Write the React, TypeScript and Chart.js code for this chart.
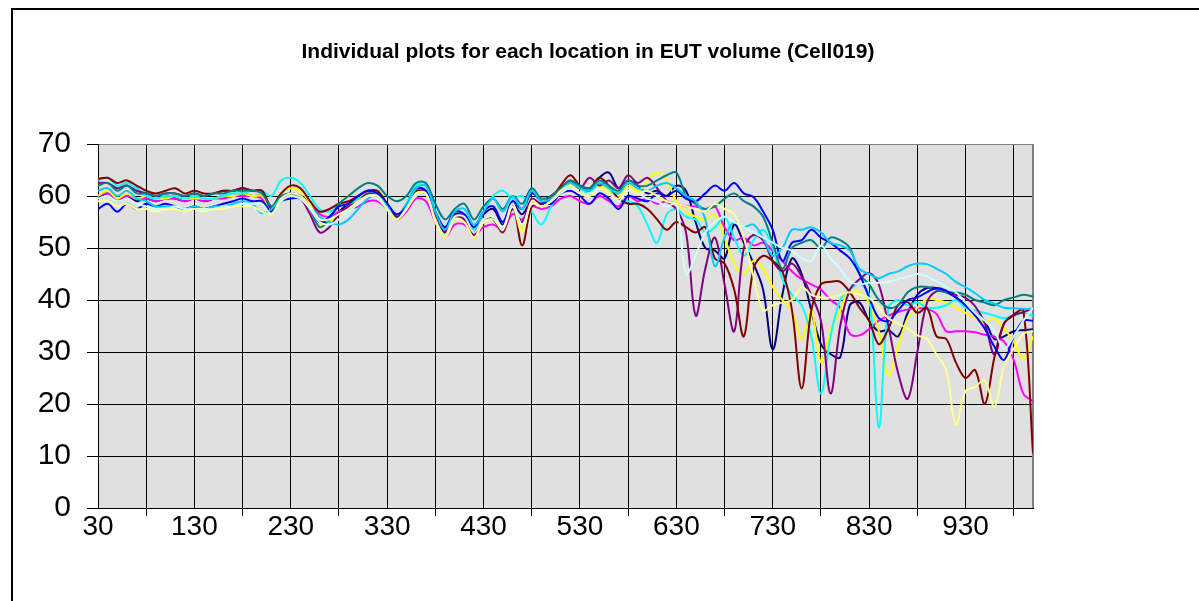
import React, { useEffect, useRef } from 'react';
import { Chart, registerables } from 'chart.js';

Chart.register(...registerables);

const TITLE = 'Individual plots for each location in EUT volume (Cell019)';

const FREQS = [
  30, 40, 50, 60, 70, 80, 90, 100, 110, 120,
  130, 140, 150, 160, 170, 180, 190, 200, 210, 220,
  230, 240, 250, 260, 270, 280, 290, 300, 310, 320,
  330, 340, 350, 360, 370, 380, 390, 400, 410, 420,
  430, 440, 450, 460, 470, 480, 490, 500, 510, 520,
  530, 540, 550, 560, 570, 580, 590, 600, 610, 620,
  630, 640, 650, 660, 670, 680, 690, 700, 710, 720,
  730, 740, 750, 760, 770, 780, 790, 800, 810, 820,
  830, 840, 850, 860, 870, 880, 890, 900, 910, 920,
  930, 940, 950, 960, 970, 980, 990, 1000,
];

const X_GRID_TICKS = [30, 80, 130, 180, 230, 280, 330, 380, 430, 480, 530, 580, 630, 680, 730, 780, 830, 880, 930, 980];
const X_LABELS = [30, 130, 230, 330, 430, 530, 630, 730, 830, 930];
const Y_MIN = 0;
const Y_MAX = 70;
const Y_STEP = 10;

const NAVY = [
  59.5, 60.5, 59, 60, 59, 59.5, 59, 59.5, 59.5, 59,
  59.5, 59, 59.5, 60, 60, 60.5, 60, 60, 57.5, 59.5,
  60, 60, 58.5, 55.5, 55, 57, 58.5, 60, 61, 60.5,
  58.5, 56, 58.5, 61.5, 61, 56.5, 53.5, 56.5, 56, 54,
  56.5, 57.5, 54.5, 58.5, 56.5, 59, 58, 60, 61, 62.5,
  61.5, 61, 63.5, 64.5, 61.5, 63, 62, 60.5, 61, 60,
  62, 61, 55, 50, 49.5, 48, 54.5, 51, 47, 42,
  30.5, 41, 48, 45, 38, 31.5, 29.6, 29, 39, 39.5,
  36, 34, 34.2, 33, 37.5, 41, 42.3, 42.3, 41.5, 40.5,
  39, 37.5, 36, 32.5, 33, 34, 34.2, 34.4,
];

const MAGENTA = [
  60, 60.5, 59.5, 60, 59.5, 59.5, 59, 59.5, 59.5, 59,
  59.5, 59, 59.5, 59.5, 60, 60, 60, 59.5, 57, 59.5,
  60.5, 60, 58.5, 56.5, 56, 57, 57.5, 58, 59, 59,
  57.5, 55.5, 57, 59.5, 59, 55, 52, 54.5, 54.5, 52.5,
  54, 54.5, 53.5, 56.5, 55.5, 58, 57.5, 58, 59.5, 60,
  59, 58.5, 60, 59, 58, 60, 59, 59.5, 58.5, 59,
  58.5, 58, 58, 57.5, 58, 54, 51.5, 52, 50.5, 51,
  49.5, 47.5, 45.5, 44, 43, 42, 40, 38.5, 33.5, 33.2,
  34.4, 36, 37, 37.7, 38.2, 38.4, 38.3, 37.3, 34, 34,
  34, 33.8, 33.3, 33, 32, 28.5, 22, 20.5,
];

const YELLOW = [
  60, 61, 59.5, 60.5, 59.5, 60, 59.5, 59.5, 60, 59.5,
  59.5, 59.5, 59.5, 60, 60, 60.5, 60, 60, 57.5, 60.5,
  61.5, 61, 58.5, 54.5, 55, 56.5, 58, 59.5, 60.5, 60,
  57.5, 55.5, 57.5, 60.5, 60.5, 55.5, 52, 55.5, 55, 52,
  55, 55.5, 53, 58.5, 53.5, 59.5, 58, 59, 61, 62,
  60.5, 60, 62, 61, 60, 62, 61, 63, 64.5, 63,
  59, 57, 56, 55.5, 56.5, 52, 47, 45, 47.5, 46,
  42.5, 40, 38, 32.5, 38, 28, 34, 38, 42, 41.5,
  39.5, 34, 25.5, 31, 36.5, 38.5, 40.2, 40, 39.5, 38.5,
  37.5, 36.5, 35.8, 36.4, 34.5, 32, 28.7, 33,
];

const CYAN = [
  63, 63.5, 62, 62.5, 61.5, 60, 59.5, 60, 60, 59.5,
  60, 59.5, 59.5, 60, 60.5, 60.5, 61, 61, 60, 63,
  63.5, 62.5, 60, 57.5, 57, 58, 58.5, 59.5, 60.5, 60.5,
  58, 56, 58.5, 62, 62.5, 57, 53, 56.5, 56.5, 53.5,
  57, 60, 61, 59.5, 60, 57, 54.5, 58, 61, 62.5,
  61.5, 60.5, 62.5, 61.5, 59.5, 59, 58, 54.5, 51, 56.5,
  57.5, 56, 55.5, 53, 54, 56, 52, 48.5, 51.5, 53.5,
  50, 44, 41, 39, 33, 22, 33, 40, 42, 43,
  41, 15.5, 38.5, 40, 39, 39.5, 38.5, 38.5, 39, 40,
  38.5, 38, 37.5, 37, 36.5, 37, 37.5, 37,
];

const PURPLE = [
  62.5, 62.5, 61.5, 62, 61, 60.5, 60, 60.5, 60.5, 60,
  60.5, 60, 60.5, 61, 61, 61.5, 61, 61, 57.5, 59.5,
  60, 59.5, 56.5, 53, 54, 56.5, 58, 59, 60.5, 60,
  58, 55.5, 57.5, 60, 60.5, 55.5, 53, 56, 55.5, 52.5,
  55.5, 55.5, 53, 57.5, 55, 59.5, 58.5, 60, 61.5, 63,
  61.5, 63.5, 62, 63, 61.5, 64, 62.5, 63.5, 61.5, 59,
  57.5, 53, 37, 46, 52, 43, 34, 50, 52.5, 51.5,
  47.5, 45.5, 47, 44.5, 41, 36, 22, 35, 42, 44,
  45.2, 43, 35, 26, 21, 30, 39.5, 41.7, 41.5, 41,
  40.4, 38.8, 35.5, 29.5, 35.5, 37, 37.7, 38.3,
];

const MAROON = [
  63.3, 63.5, 62.5, 63, 62, 61, 60.5, 61, 61.5, 60.5,
  61, 60.5, 60.5, 61, 61, 61.5, 61, 61, 58, 60.5,
  62, 61.5, 59, 57, 57.5, 58.5, 59, 60, 61, 61,
  58.5, 56, 58, 61, 60.5, 56, 53, 56.5, 56, 53,
  55.5, 55.5, 53.5, 58.5, 50.5, 58, 58.5, 59.5, 62, 64,
  62, 61.5, 63.5, 62, 59.5, 58.5, 58.5, 57.5, 55.5, 53.5,
  55, 54, 53, 54, 48, 47, 42, 33, 46, 48.5,
  47.5, 45.5, 38, 23, 38, 43, 43.5, 43.5, 41.5, 38.5,
  36, 31.5, 34.5, 39, 39.6, 37.5, 38.5, 33, 32.5, 28,
  25, 26.5, 20, 29, 35.5, 37.2, 38, 10.5,
];

const TEAL = [
  62, 62.5, 61, 62, 60.5, 60.5, 60, 60.5, 60.5, 60,
  60.5, 60, 60.5, 60.5, 61, 61, 61, 60.5, 58, 60,
  60.5, 60, 57.5, 54, 55.5, 58.5, 60, 61.5, 62.5, 62,
  60, 59, 60, 62.5, 62.5, 58.5, 55.5, 57.5, 58.5, 55.5,
  58, 59.5, 57.5, 60, 58.5, 61.5, 59.5, 60, 61.5, 63,
  62, 61.5, 63, 62, 61, 63, 62, 62, 63, 64,
  64.5, 60, 58.5, 57.5, 58, 59.5, 60.5, 59, 58, 56,
  51, 46, 50, 51, 51.5, 50, 52, 51.5, 50, 45,
  43, 40, 38.5, 39, 41.5, 42.5, 42.5, 42, 41.5, 41.5,
  41, 40, 39.5, 39, 40, 40.5, 41, 40.7,
];

const BLUE = [
  57.5, 58.5, 57, 58.5, 57.5, 58.5, 58, 58.5, 58, 57.5,
  58, 57.5, 58, 58.5, 59, 59.5, 59, 59, 57, 59,
  59.5, 59.5, 57.5, 55, 56, 58, 58.5, 60, 61, 60.5,
  58.5, 56.5, 58, 61.5, 61, 57, 54, 57, 56.5, 54,
  57, 58, 55, 59, 57.5, 60.5, 59, 58.5, 60.5, 61,
  60, 58.5, 60.5, 59.5, 57.5, 60, 59.5, 59, 60.5, 60,
  61, 59.5, 59, 60.5, 62, 61, 62.5, 60.5, 59.8, 57,
  53.5, 47.5, 51, 51.5, 53.5, 52, 51, 49.5, 48, 45,
  40.5, 36.5, 36, 38, 40, 40.5, 41.5, 42.3, 41.8, 40.5,
  39, 37, 34.5, 31, 28.5, 33, 36, 36,
];

const SKY_BLUE = [
  61, 61.5, 60, 61, 59.5, 59, 58, 58, 58, 57.5,
  58, 57.5, 58, 58, 58.5, 59, 58.5, 56.7, 57.5, 59.5,
  60, 59.5, 58, 56, 55, 54.5, 55.5, 57.5, 59.5, 60,
  58, 55.5, 58, 61.5, 62, 57, 53.5, 57, 57.5, 54.5,
  57, 59.5, 57, 60, 57.5, 61, 59, 59.5, 61, 62.5,
  61.5, 61, 62.5, 61.5, 60.5, 62.5, 61.5, 61, 62, 62.5,
  61.5, 60, 59, 55.5, 46.5, 52, 55, 54, 54.5, 52,
  48.5, 50, 53.5, 53.5, 54, 53, 51, 50.5, 49.5, 46,
  45, 44.2, 45, 45.5, 46.5, 47, 46.9, 46, 45, 43.5,
  42.5, 41.3, 40, 39.3, 38.5, 38.4, 38.3, 38.3,
];

const LIGHT_CYAN = [
  59.5, 60, 59, 59.5, 58.5, 58, 57.5, 57.5, 58, 57.5,
  57.5, 57.5, 57.5, 58, 58, 58.5, 58.5, 58.5, 56.5, 59,
  60, 59.5, 57.5, 55, 54.5, 55.5, 57, 58.5, 60, 59.5,
  57.5, 55.5, 57.5, 60, 60.5, 55.5, 52.5, 56, 56, 53,
  55.5, 56, 54, 58.5, 54.5, 58.5, 58, 59, 60.5, 61.5,
  60.5, 60.5, 61.5, 60.5, 59, 61, 60.5, 59.5, 59, 58,
  58.5, 45, 48.5, 53, 55, 56, 55, 54, 53, 52,
  51, 50, 49.5, 48, 47.5, 50.5, 48, 46, 43.6, 43,
  43.3, 43.3, 43.5, 44, 44.5, 45, 44.5, 43.6, 42.5, 41.5,
  39.5, 37.5, 36, 34, 30.6, 33, 36, 38.5,
];

const LIGHT_YELLOW = [
  59, 59, 58, 58.5, 57.5, 57.5, 57, 57.5, 57.5, 57,
  57.5, 57, 57.5, 57.5, 58, 58, 58, 57, 56.5, 59.5,
  60.5, 60, 58, 55.5, 55.5, 56.5, 57.5, 59, 60, 60,
  57.5, 55.5, 57.5, 60.5, 60.5, 55, 52, 55.5, 55, 52,
  55, 55.5, 53.5, 58, 53, 59, 58, 59, 61, 62,
  60.5, 60, 61.5, 60.5, 59.5, 61.5, 60.5, 61, 60, 59,
  58.5, 58, 57.5, 57, 58.5, 57.5, 56.5, 52, 44.5, 38,
  39, 39.5, 40, 42.5, 41, 40.5, 40.5, 41, 41.5, 41,
  40.4, 38.5, 36.5, 35.5, 34.5, 33.2, 32.5, 29.5, 26.5, 16,
  22.5, 23.3, 24.6, 19.5, 27.3, 30.6, 33.5, 34,
];

const SERIES_NAMES = [
  'Location 1', 'Location 2', 'Location 3', 'Location 4', 'Location 5', 'Location 6',
  'Location 7', 'Location 8', 'Location 9', 'Location 10', 'Location 11',
];
const SERIES_VALUES = [NAVY, MAGENTA, YELLOW, CYAN, PURPLE, MAROON, TEAL, BLUE, SKY_BLUE, LIGHT_CYAN, LIGHT_YELLOW];
const SERIES_COLORS = ['#000080', '#FF00FF', '#FFFF00', '#00FFFF', '#800080', '#800000', '#008080', '#0000FF', '#00CCFF', '#CCFFFF', '#FFFF99'];

const FONT = "'Liberation Sans', Arial, Helvetica, sans-serif";

export default function App() {
  const canvasRef = useRef<HTMLCanvasElement | null>(null);

  useEffect(() => {
    const canvas = canvasRef.current;
    if (!canvas) return;

    const backgroundPlugin = {
      id: 'plotBackground',
      beforeDraw(chart: any) {
        const { ctx, chartArea } = chart;
        ctx.save();
        ctx.fillStyle = '#ffffff';
        ctx.fillRect(0, 0, chart.width, chart.height);
        ctx.fillStyle = '#E0E0E0';
        ctx.fillRect(chartArea.left, chartArea.top, chartArea.right - chartArea.left, chartArea.bottom - chartArea.top);
        ctx.restore();
      },
      beforeDatasetsDraw(chart: any) {
        const { ctx, chartArea } = chart;
        ctx.save();
        ctx.strokeStyle = '#808080';
        ctx.lineWidth = 2;
        ctx.beginPath();
        ctx.moveTo(chartArea.right, chartArea.bottom);
        ctx.lineTo(chartArea.right, chartArea.top);
        ctx.stroke();
        ctx.restore();
      },
      afterDraw(chart: any) {
        const { ctx } = chart;
        ctx.save();
        ctx.fillStyle = '#000000';
        ctx.font = `bold 21px ${FONT}`;
        ctx.textAlign = 'center';
        ctx.textBaseline = 'middle';
        ctx.fillText(TITLE, 588, 52);
        ctx.restore();
      },
    };

    const chart = new Chart(canvas, {
      type: 'line',
      data: {
        datasets: SERIES_VALUES.map((vals, i) => ({
          label: SERIES_NAMES[i],
          data: FREQS.map((f, j) => ({ x: f, y: vals[j] })),
          borderColor: SERIES_COLORS[i],
          backgroundColor: SERIES_COLORS[i],
          borderWidth: 2,
          pointRadius: 0,
          tension: 0.35,
          fill: false,
          order: SERIES_VALUES.length - i,
        })),
      },
      options: {
        animation: false,
        responsive: false,
        events: [],
        layout: { padding: { left: 0, right: 166, top: 144, bottom: 0 } },
        plugins: {
          legend: { display: false },
          tooltip: { enabled: false },
          title: { display: false },
        },
        scales: {
          x: {
            type: 'linear',
            min: 30,
            max: 1000,
            afterBuildTicks: (scale: any) => {
              scale.ticks = X_GRID_TICKS.map((v) => ({ value: v }));
            },
            afterFit: (scale: any) => {
              scale.height = 93;
            },
            border: { color: '#000000', width: 1 },
            grid: {
              color: '#000000',
              lineWidth: 1,
              drawTicks: true,
              tickLength: 8,
              tickColor: (ctx: any) =>
                ctx.tick && X_LABELS.includes(ctx.tick.value) ? 'rgba(0,0,0,0)' : '#000000',
            },
            ticks: {
              autoSkip: false,
              maxRotation: 0,
              minRotation: 0,
              padding: -6,
              color: '#000000',
              font: { family: FONT, size: 28 },
              callback: (value: any) => (X_LABELS.includes(Number(value)) ? String(value) : ''),
            },
          },
          y: {
            min: Y_MIN,
            max: Y_MAX,
            afterFit: (scale: any) => {
              scale.width = 98;
            },
            border: { color: '#000000', width: 1 },
            grid: {
              color: (ctx: any) => (ctx.tick && ctx.tick.value === Y_MAX ? '#808080' : '#000000'),
              lineWidth: 1,
              drawTicks: true,
              tickLength: 11,
              tickColor: '#000000',
            },
            ticks: {
              stepSize: Y_STEP,
              padding: 16,
              color: '#000000',
              font: { family: FONT, size: 30 },
            },
          },
        },
      },
      plugins: [backgroundPlugin],
    } as any);

    return () => {
      chart.destroy();
    };
  }, []);

  return (
    <div style={{ position: 'fixed', left: 0, top: 0, width: 1199, height: 601, overflow: 'hidden', background: '#ffffff' }}>
      <canvas ref={canvasRef} width={1199} height={601} style={{ position: 'absolute', left: 0, top: 0, width: 1199, height: 601 }} />
      <div
        style={{
          position: 'absolute',
          left: 11,
          top: 8,
          width: 1400,
          height: 800,
          borderTop: '2px solid #000000',
          borderLeft: '2px solid #000000',
          pointerEvents: 'none',
        }}
      />
    </div>
  );
}
